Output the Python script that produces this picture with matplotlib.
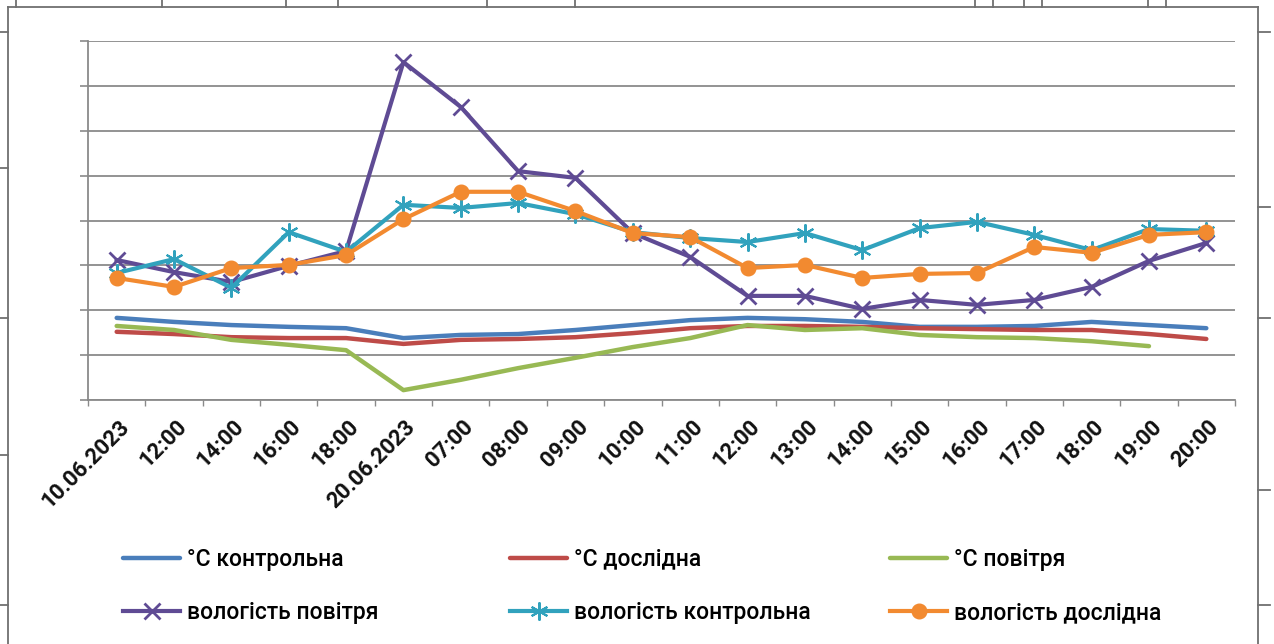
import matplotlib.pyplot as plt
import matplotlib.transforms as mtransforms
from matplotlib.lines import Line2D
import numpy as np

labels = ["10.06.2023", "12:00", "14:00", "16:00", "18:00", "20.06.2023",
          "07:00", "08:00", "09:00", "10:00", "11:00", "12:00", "13:00",
          "14:00", "15:00", "16:00", "17:00", "18:00", "19:00", "20:00"]

t_control = [18.3, 17.4, 16.7, 16.3, 16.0, 13.8, 14.5, 14.7, 15.6, 16.7,
             17.8, 18.3, 18.0, 17.4, 16.3, 16.3, 16.5, 17.4, 16.7, 16.0]
t_test = [15.2, 14.7, 14.0, 13.8, 13.8, 12.5, 13.4, 13.6, 14.0, 14.9,
          16.0, 16.5, 16.5, 16.3, 16.0, 15.8, 15.6, 15.6, 14.7, 13.6]
t_air = [16.5, 15.6, 13.4, 12.3, 11.1, 2.2, 4.5, 7.1, 9.4, 11.8,
         13.8, 16.7, 15.6, 16.0, 14.5, 14.0, 13.8, 13.1, 12.0, np.nan]
h_air = [31.2, 28.5, 26.3, 29.9, 33.2, 75.3, 65.3, 51.0, 49.5, 37.2,
         31.9, 23.2, 23.2, 20.3, 22.3, 21.2, 22.3, 25.2, 31.0, 35.0]
h_control = [28.3, 31.4, 25.0, 37.4, 33.0, 43.5, 42.8, 43.9, 41.4, 37.4,
             36.1, 35.2, 37.2, 33.4, 38.3, 39.7, 36.8, 33.4, 38.1, 37.7]
h_test = [27.2, 25.2, 29.4, 30.1, 32.3, 40.3, 46.4, 46.4, 42.1, 37.2,
          36.3, 29.4, 30.1, 27.2, 28.1, 28.3, 34.1, 32.8, 36.8, 37.4]

W, H = 1274, 644
fig = plt.figure(figsize=(W / 100, H / 100), dpi=100)
ax = fig.add_axes([88 / W, 1 - 400 / H, (1235 - 88) / W, 359 / H])

x = np.arange(len(labels))
l1, = ax.plot(x, t_control, color='#4A7EBB', lw=3.2, solid_capstyle='round')
l2, = ax.plot(x, t_test, color='#BE4B48', lw=3.2, solid_capstyle='round')
l3, = ax.plot(x, t_air, color='#98B954', lw=3.2, solid_capstyle='round')
l4, = ax.plot(x, h_air, color='#5F4B94', lw=3, marker='x', ms=11, mew=2)
l5, = ax.plot(x, h_control, color='#31A2BD', lw=3, marker=(6, 2, 0), ms=13, mew=1.5)
l6, = ax.plot(x, h_test, color='#F28A30', lw=3, marker='o', ms=10.5)

ax.set_xlim(-0.5, len(labels) - 0.5)
ax.set_ylim(0, 80)
ax.set_yticks(np.arange(0, 81, 10))
ax.set_yticklabels([])
ax.grid(axis='y', color='#8a8a8a', lw=1.3)
ax.tick_params(axis='y', length=6, width=1.2, color='#8a8a8a', direction='out')
for s in ['top', 'right']:
    ax.spines[s].set_visible(False)
for s in ['left', 'bottom']:
    ax.spines[s].set_color('#8a8a8a')
    ax.spines[s].set_linewidth(1.3)

# tick marks between categories, labels under category centers
ax.set_xticks(np.arange(-0.5, len(labels), 1))
ax.set_xticklabels([])
ax.tick_params(axis='x', which='major', length=4, width=1, color='#8a8a8a')
ax.set_xticks(x, minor=True)
ax.set_xticklabels(labels, minor=True, fontsize=16, fontweight='bold',
                   family='Roboto', rotation=45, ha='right', va='center',
                   rotation_mode='anchor', color='#111111')
ax.tick_params(axis='x', which='minor', length=0, pad=17)
offset = mtransforms.ScaledTranslation(9 / 100, 0, fig.dpi_scale_trans)
for lbl in ax.get_xticklabels(minor=True):
    lbl.set_transform(lbl.get_transform() + offset)

# legend: three columns of two rows
cols = [([l1, l4], ['°C контрольна', 'вологість повітря'], 123),
        ([l2, l5], ['°C дослідна', 'вологість контрольна'], 510),
        ([l3, l6], ['°C повітря', 'вологість дослідна'], 890)]
for hs, ls, px in cols:
    fig.legend(hs, ls, loc='center left', bbox_to_anchor=(px / W, 1 - 586 / H),
               frameon=False,
               prop={'family': 'Roboto', 'size': 16.5, 'weight': 'medium'},
               handlelength=2.5, handletextpad=0.3, labelspacing=1.35,
               borderpad=0, borderaxespad=0)

# page frame around the chart
def fline(xs, ys, **kw):
    fig.add_artist(Line2D([v / W for v in xs], [1 - v / H for v in ys],
                          color='#707070', lw=1.3, **kw))

fline([8, 1258], [7, 7])
fline([8, 8], [7, 644])
fline([1258, 1258], [7, 644])
for px in [16, 162, 286, 338, 487, 575, 975, 993, 1024, 1042, 1148, 1166]:
    fline([px, px], [0, 7])
for py in [32, 168, 318, 455, 605]:
    fline([0, 8], [py, py])
for py in [32, 207, 318, 490, 605]:
    fline([1258, 1270], [py, py])

fig.savefig('out.png', dpi=100)
